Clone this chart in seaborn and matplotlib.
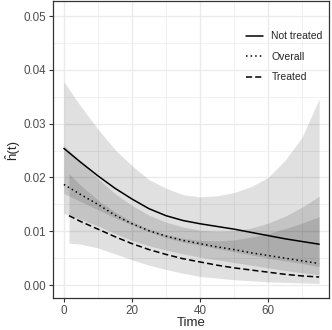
import numpy as np
import pandas as pd
import matplotlib
matplotlib.use("Agg")
import matplotlib.pyplot as plt
import seaborn as sns

# -------------------------
# Datos
# -------------------------
tiempo = [0, 5, 10, 15, 20, 25, 30, 35, 40, 45, 50, 55, 60, 65, 70, 75]
tiempo_tratado = [1.5, 5, 10, 15, 20, 25, 30, 35, 40, 45, 50, 55, 60, 65, 70, 75]

haz_no_tratado = [0.0254, 0.0228, 0.0203, 0.0180, 0.0160, 0.0142, 0.0129, 0.0120,
                  0.0114, 0.0109, 0.0104, 0.0098, 0.0092, 0.0086, 0.0081, 0.0076]
lo_no_tratado = [0.0170, 0.0155, 0.0140, 0.0125, 0.0112, 0.0099, 0.0088, 0.0080,
                 0.0074, 0.0068, 0.0062, 0.0056, 0.0050, 0.0045, 0.0040, 0.0034]
up_no_tratado = [0.0378, 0.0332, 0.0290, 0.0252, 0.0222, 0.0196, 0.0180, 0.0168,
                 0.0164, 0.0166, 0.0172, 0.0183, 0.0200, 0.0232, 0.0275, 0.0346]

haz_global = [0.0187, 0.0168, 0.0150, 0.0130, 0.0114, 0.0101, 0.0091, 0.0083,
              0.0077, 0.0071, 0.0066, 0.0060, 0.0055, 0.0050, 0.0045, 0.0040]
lo_global = [0.0133, 0.0122, 0.0110, 0.0096, 0.0083, 0.0073, 0.0065, 0.0058,
             0.0052, 0.0047, 0.0042, 0.0037, 0.0032, 0.0027, 0.0023, 0.0019]
up_global = [0.0260, 0.0228, 0.0198, 0.0170, 0.0148, 0.0130, 0.0117, 0.0108,
             0.0102, 0.0100, 0.0101, 0.0106, 0.0115, 0.0128, 0.0145, 0.0165]

haz_tratado = [0.0129, 0.0118, 0.0104, 0.0090, 0.0077, 0.0066, 0.0057, 0.0049,
               0.0043, 0.0037, 0.0032, 0.0028, 0.0024, 0.0020, 0.0017, 0.0015]
lo_tratado = [0.0078, 0.0076, 0.0069, 0.0058, 0.0047, 0.0037, 0.0029, 0.0022,
              0.0016, 0.0013, 0.0010, 0.0008, 0.0006, 0.0005, 0.0004, 0.0003]
up_tratado = [0.0207, 0.0185, 0.0158, 0.0136, 0.0118, 0.0104, 0.0094, 0.0087,
              0.0083, 0.0082, 0.0084, 0.0089, 0.0096, 0.0105, 0.0115, 0.0127]

grupos = ["Not treated", "Overall", "Treated"]

df = pd.concat([
    pd.DataFrame({"time": tiempo, "haz": haz_no_tratado, "lo": lo_no_tratado,
                  "up": up_no_tratado, "group": "Not treated"}),
    pd.DataFrame({"time": tiempo, "haz": haz_global, "lo": lo_global,
                  "up": up_global, "group": "Overall"}),
    pd.DataFrame({"time": tiempo_tratado, "haz": haz_tratado, "lo": lo_tratado,
                  "up": up_tratado, "group": "Treated"}),
], ignore_index=True)

# -------------------------
# Estilo tipo theme_bw
# -------------------------
sns.set_style("white")
plt.rcParams["font.family"] = ["Liberation Sans", "DejaVu Sans"]

fig = plt.figure(figsize=(3.32, 3.30), dpi=100)
ax = fig.add_axes([53 / 332, 1 - 298 / 330, 276 / 332, 297 / 330])

# bandas de confianza
for g in grupos:
    d = df[df["group"] == g]
    ax.fill_between(d["time"], d["lo"], d["up"], color="black", alpha=0.12,
                    linewidth=0, zorder=2)

sns.lineplot(data=df, x="time", y="haz", style="group", style_order=grupos,
             dashes={"Not treated": "", "Overall": (1, 2), "Treated": (4, 2)},
             color="black", linewidth=1.1, ax=ax, zorder=3)

ax.set_xlim(-3.2, 77.9)
ax.set_ylim(-0.0024, 0.0528)
ax.set_xticks([0, 20, 40, 60])
ax.set_yticks([0.00, 0.01, 0.02, 0.03, 0.04, 0.05])
ax.set_yticklabels(["0.00", "0.01", "0.02", "0.03", "0.04", "0.05"])
ax.set_xticks([10, 30, 50, 70], minor=True)
ax.set_yticks([0.005, 0.015, 0.025, 0.035, 0.045], minor=True)

ax.grid(True, which="major", color="#EBEBEB", linewidth=1.0, zorder=0)
ax.grid(True, which="minor", color="#EBEBEB", linewidth=0.5, zorder=0)
ax.set_axisbelow(True)

for s in ax.spines.values():
    s.set_color("#333333")
    s.set_linewidth(0.9)

ax.tick_params(which="major", length=3, width=0.8, color="#333333",
               labelsize=8.4, labelcolor="#4D4D4D", pad=2, left=True, bottom=True)
ax.tick_params(which="minor", length=0)

ax.set_xlabel("Time", fontsize=9.5, labelpad=0)
ax.set_ylabel("ĥ(t)", fontsize=9.5, labelpad=3)

handles, labels = ax.get_legend_handles_labels()
ax.legend(handles, labels, loc="upper left", bbox_to_anchor=(0.665, 0.929),
          frameon=False, fontsize=7.5, handlelength=1.6, handletextpad=0.85,
          labelspacing=1.0, borderpad=0.4)

fig.savefig("out.png", dpi=100)
